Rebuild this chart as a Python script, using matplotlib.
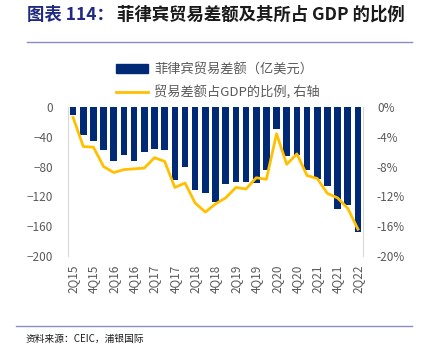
import numpy as np
import matplotlib.pyplot as plt
from matplotlib.lines import Line2D

plt.rcParams['font.family'] = ['Noto Sans CJK SC', 'DejaVu Sans']

# quarterly data, 2Q15 .. 2Q22
quarters = ['2Q15', '3Q15', '4Q15', '1Q16', '2Q16', '3Q16', '4Q16', '1Q17', '2Q17', '3Q17',
            '4Q17', '1Q18', '2Q18', '3Q18', '4Q18', '1Q19', '2Q19', '3Q19', '4Q19', '1Q20',
            '2Q20', '3Q20', '4Q20', '1Q21', '2Q21', '3Q21', '4Q21', '1Q22', '2Q22']
trade_balance = [-11, -38, -45, -58, -72, -65, -72, -61, -57, -58,
                 -98, -81, -112, -116, -127, -104, -101, -101, -102, -85,
                 -29, -66, -64, -84, -96, -106, -137, -131, -168]
pct_gdp = [-1.4, -5.3, -5.4, -8.0, -8.8, -8.4, -8.3, -8.2, -6.8, -7.3,
           -10.8, -10.2, -12.9, -14.1, -13.0, -12.2, -10.8, -11.0, -9.5, -9.7,
           -3.6, -7.7, -6.3, -9.2, -9.6, -11.6, -12.2, -13.6, -16.4]

navy = '#002A75'
gold = '#FFC000'
grey = '#595959'

fig = plt.figure(figsize=(4.23, 3.57), dpi=100)
ax = fig.add_axes([0.1608, 0.2829, 0.6974, 0.4174])
ax2 = ax.twinx()

x = np.arange(len(quarters))
ax.bar(x, trade_balance, width=0.65, color=navy, zorder=2)
ax2.plot(x, pct_gdp, color=gold, lw=2, zorder=3)
ax2.set_zorder(ax.get_zorder() + 1)
ax2.patch.set_visible(False)

ax.set_xlim(-0.5, len(quarters) - 0.5)
ax.set_ylim(-200, 0)
ax.set_yticks(range(-200, 1, 40))
ax2.set_ylim(-20, 0)
ax2.set_yticks(range(-20, 1, 4))
ax2.set_yticklabels([f'{v}%' for v in range(-20, 1, 4)])

ax.set_xticks(x[::2])
ax.set_xticklabels(quarters[::2], rotation=90)

for a in (ax, ax2):
    for s in a.spines.values():
        s.set_visible(False)
    a.tick_params(length=0, colors=grey, labelsize=8.5)
ax.spines['left'].set_visible(True)
ax.spines['left'].set_color('#D9D9D9')
ax2.spines['right'].set_visible(True)
ax2.spines['right'].set_color('#D9D9D9')
ax.tick_params(axis='y', pad=11)
ax2.tick_params(axis='y', pad=10)
ax.tick_params(axis='x', pad=6)

handles = [plt.Rectangle((0, 0), 1, 1, color=navy),
           Line2D([0], [0], color=gold, lw=2)]
labels = ['菲律宾贸易差额（亿美元）', '贸易差额占GDP的比例, 右轴']
fig.legend(handles, labels, loc='upper left', bbox_to_anchor=(116 / 423, 1 - 63 / 357),
           frameon=False, fontsize=9.5, labelcolor=grey, handlelength=2.4,
           handleheight=0.6, handletextpad=0.5, labelspacing=0.72,
           borderpad=0, borderaxespad=0)

# title
t1 = fig.text(0.064, 0.958, '图表 114：', fontsize=12.5, fontweight='bold',
              color='#1F2A80', va='center', ha='left')
fig.canvas.draw()
bb = t1.get_window_extent().transformed(fig.transFigure.inverted())
fig.text(bb.x1 + 0.008, 0.958, '菲律宾贸易差额及其所占 GDP 的比例', fontsize=12.5,
         fontweight='bold', color='#1A1A1A', va='center', ha='left')

fig.add_artist(Line2D([27 / 423, 412 / 423], [1 - 42 / 357] * 2, color='#8C8CC8', lw=1))
fig.add_artist(Line2D([16 / 423, 412 / 423], [1 - 326 / 357] * 2, color='#8C8CC8', lw=1))
fig.text(0.06, 1 - 339 / 357, '资料来源：CEIC，浦银国际', fontsize=7, color='#1A1A1A',
         va='center', ha='left')

fig.savefig('out.png', dpi=100)
